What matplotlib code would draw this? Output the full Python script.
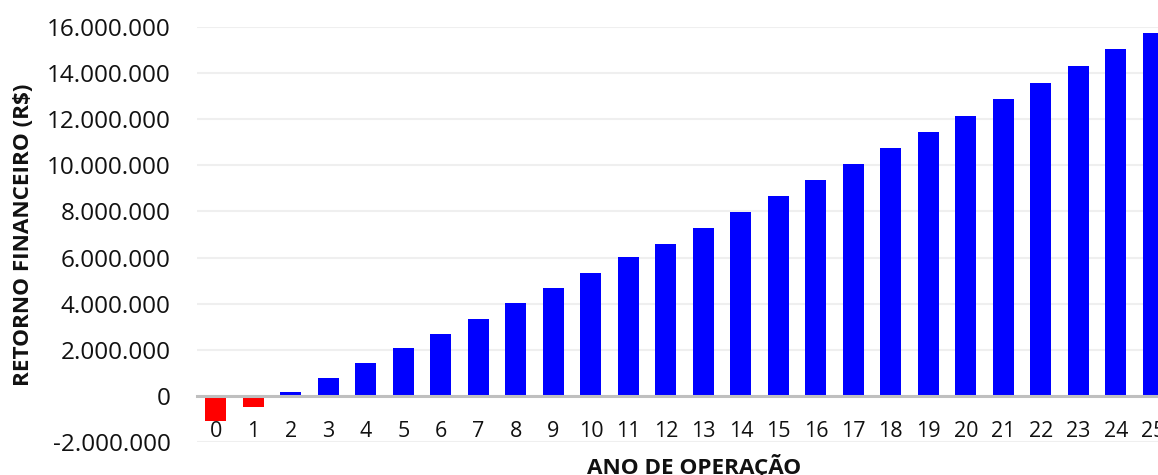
import matplotlib
matplotlib.use("Agg")
import matplotlib.pyplot as plt
from matplotlib.ticker import FuncFormatter

plt.rcParams["font.family"] = ["Open Sans", "DejaVu Sans"]

# Retorno financeiro acumulado por ano de operação (R$)
anos = list(range(26))
retorno = [-1070000, -460000, 170000, 780000, 1430000, 2080000, 2690000,
           3340000, 4030000, 4680000, 5330000, 6020000, 6590000, 7280000,
           7970000, 8670000, 9360000, 10050000, 10750000, 11440000, 12130000,
           12870000, 13560000, 14300000, 15040000, 15730000]
y_ticks = list(range(-2000000, 16000001, 2000000))

cores = ["#FF0000" if v < 0 else "#0000FF" for v in retorno]

fig = plt.figure(figsize=(11.58, 4.75), dpi=100)
# plot area runs past the right edge, like the cropped original
ax = fig.add_axes([0.1703, 0.0686, 0.8418, 0.8752])

ax.bar(anos, retorno, width=0.56, color=cores, zorder=3)

ax.set_xlim(-0.5, 25.5)
ax.set_ylim(-2000000, 16000000)
ax.set_yticks(y_ticks)
ax.yaxis.set_major_formatter(
    FuncFormatter(lambda v, p: f"{int(round(v)):,}".replace(",", ".")))
ax.grid(axis="y", color="#efefef", linewidth=1.5, zorder=0)

ax.set_xticks(anos)
ax.set_xticklabels([str(a) for a in anos])

for s in ["top", "right", "left"]:
    ax.spines[s].set_visible(False)
ax.spines["bottom"].set_position(("data", 0))
ax.spines["bottom"].set_color("#bfbfbf")
ax.spines["bottom"].set_linewidth(2.2)
ax.spines["bottom"].set_zorder(4)

ax.tick_params(axis="y", length=0, pad=19, labelsize=17.5, labelcolor="#111111")
ax.tick_params(axis="x", length=0, pad=18, labelsize=15.5, labelcolor="#111111")

ax.set_xlabel("ANO DE OPERAÇÃO", fontsize=16.2, fontweight="bold", color="#111111")
ax.xaxis.set_label_coords(0.5096, -0.057)
ax.set_ylabel("RETORNO FINANCEIRO (R$)", fontsize=16.2, fontweight="bold", color="#111111")
ax.yaxis.set_label_coords(-0.1777, 0.499)
ax.xaxis.label.set_verticalalignment("center")
ax.yaxis.label.set_verticalalignment("center")

fig.savefig("out.png", dpi=100)
